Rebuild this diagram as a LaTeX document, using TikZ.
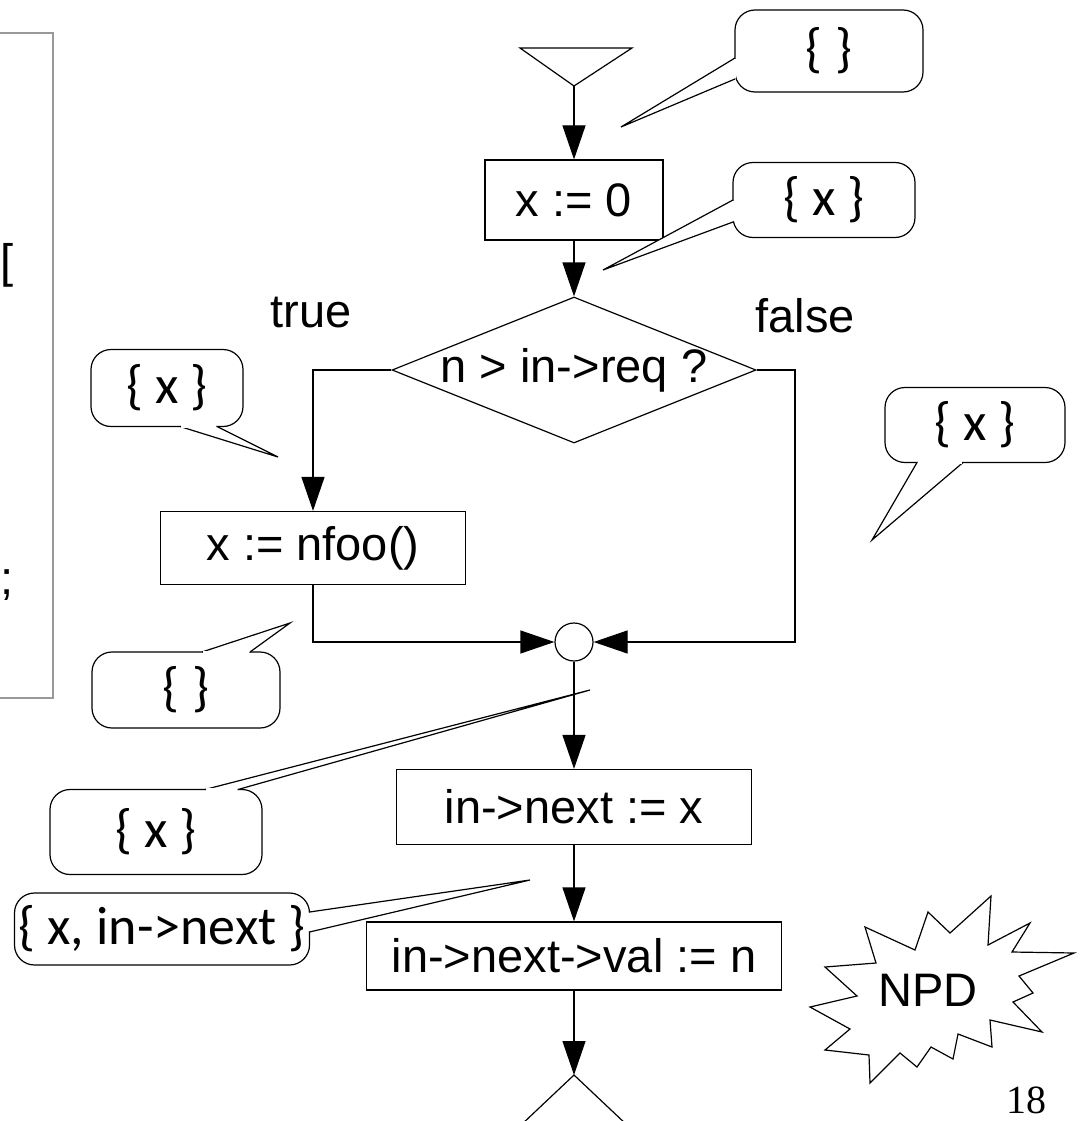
\documentclass[tikz,border=0pt]{standalone}
\usepackage{fontspec}
\setmainfont{Liberation Sans}
\newfontfamily\notefont{Carlito}
\newfontfamily\pagefont{Liberation Serif}
\usetikzlibrary{shapes.geometric, arrows.meta, positioning, calc}

% speech-bubble tail: base points #1, #2, tip #3
\newcommand{\tail}[3]{%
  \fill[white] (#1) -- (#3) -- (#2) -- cycle;
  \draw[flow, line join=miter] (#1) -- (#3) -- (#2);
  \draw[white, line width=2.2pt, shorten <=0.8pt, shorten >=0.8pt] (#1) -- (#2);}

\begin{document}
\begin{tikzpicture}[
  x=1pt, y=-1pt,
  every node/.style={font=\fontsize{47}{56}\selectfont},
  box/.style={rectangle, draw=black, line width=1.2pt, inner sep=0pt},
  note/.style={rectangle, draw=black, rounded corners=20pt, line width=1.2pt, fill=white, inner sep=0pt, font=\notefont\fontsize{54}{64}\selectfont},
  arrow/.style={line width=1.2pt, -{Triangle[length=34pt, width=23pt]}},
  flow/.style={line width=1.2pt},
  panel/.style={draw=black!40, line width=1.6pt}
]
\useasboundingbox (0,0) rectangle (1086,1121);
\clip (0,0) rectangle (1086,1121);

% clipped panel on the left
\draw[panel] (-20,33) rectangle (53,698);
\node[anchor=west, inner sep=0pt] (brk) at (0,265) {[};
\node[anchor=west, inner sep=0pt] (semi) at (0,585) {;};

% flow graph
\coordinate (srcl) at (520,48);
\coordinate (srcr) at (632,48);
\coordinate (src) at (574,86);
\draw[flow] (srcl) -- (srcr) -- (src) -- cycle;

\node (init) [box, minimum width=178pt, minimum height=80pt] at (574,200) {x := 0};
\node (cond) [diamond, draw=black, line width=1.2pt, minimum width=364pt, minimum height=146pt, inner sep=0pt] at (574,370) {};
\node (condtext) at (cond.center) {n > in->req ?};
\node (assign) [box, minimum width=305pt, minimum height=73pt] at (313,548) {x := nfoo()};
\node (join) [circle, draw=black, line width=1.2pt, minimum size=38pt, inner sep=0pt] at (574,642) {};
\node (store) [box, minimum width=355pt, minimum height=75pt] at (574,807) {in->next := x};
\node (deref) [box, minimum width=415pt, minimum height=68pt] at (574,956) {in->next->val := n};
\coordinate (sink) at (574,1075);
\coordinate (sinkl) at (520,1126);
\coordinate (sinkr) at (628,1126);
\coordinate (rbend) at (795,370);

\node (true) at (311,313) {true};
\node (false) at (805,316) {false};

\draw[arrow] (src) -- (init);
\draw[arrow] (init) -- (cond);
\draw[arrow] (cond.west) -| (assign.north);
\draw[arrow] (assign.south) |- (join.west);
\draw[arrow] (cond.east) -- (rbend) |- (join.east);
\draw[arrow] (join) -- (store);
\draw[arrow] (store) -- (deref);
\draw[arrow] (deref) -- (sink);
\draw[flow] (sinkl) -- (sink) -- (sinkr);

% callouts
\node (noteA) [note, minimum width=188pt, minimum height=82pt] at (829,51) {\{ \}};
\tail{735,58}{735,79}{621,127}
\node (noteB) [note, minimum width=182pt, minimum height=75pt] at (824,200) {\{ x \}};
\tail{733,200}{733,222}{603,270}
\node (noteC) [note, minimum width=152pt, minimum height=77pt] at (167,388) {\{ x \}};
\tail{180,426.5}{217,426.5}{278,457}
\node (noteD) [note, minimum width=180pt, minimum height=75pt] at (975,425) {\{ x \}};
\tail{917,462.5}{963,462.5}{872,540}
\node (noteE) [note, minimum width=188pt, minimum height=76pt] at (186,690) {\{ \}};
\tail{202,652}{250,652}{290,623}
\node (noteF) [note, minimum width=212pt, minimum height=85pt] at (156,832) {\{ x \}};
\tail{205,789.5}{238,789.5}{590,690}
\node (noteG) [note, minimum width=295pt, minimum height=72pt] at (162,929) {\{ x, in->next \}};
\tail{309.5,912}{309.5,932}{530,880}

% starburst
\draw[flow, line join=miter] (865,927) -- (915,950) -- (928,912) -- (950,933) -- (991,896)
  -- (988,945) -- (1030,923) -- (1012,952) -- (1074,953) -- (1019,976) -- (1033,993)
  -- (1013,1002) -- (1042,1032) -- (990,1020) -- (992,1047) -- (958,1034) -- (953,1059)
  -- (931,1047) -- (917,1067) -- (900,1053) -- (870,1083) -- (869,1055) -- (825,1050)
  -- (850,1029) -- (810,1007) -- (857,996) -- (825,967) -- (876,963) -- cycle;
\node (npd) at (928,990) {NPD};

\node (page) [font=\pagefont\fontsize{40}{48}\selectfont] at (1026,1100) {18};
\end{tikzpicture}
\end{document}
